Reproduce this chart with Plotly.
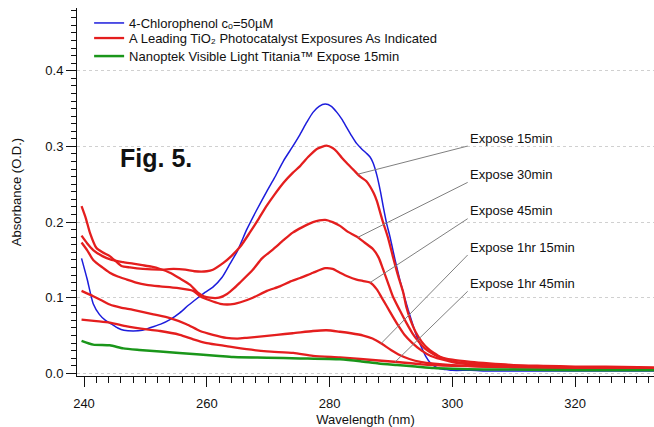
import numpy as np
import plotly.graph_objects as go

# ---------------- data ----------------
blue_x = [239.6, 240.5, 241.5, 242.5, 243.5, 244.5, 245.5, 246.5, 248, 249.5, 251, 252.5, 254, 255.6, 257,
          258.4, 259.7, 261, 262.5, 263.8, 265, 266.5, 268, 269.8, 271, 272.5, 274, 275.2, 276.3, 277.3,
          278.3, 279.3, 280.3, 281.2, 282, 282.8, 283.6, 284.4, 285.2, 286, 286.6, 287.1, 287.7, 288.3,
          288.8, 289.3, 289.8, 290.4, 290.9, 291.5, 292, 292.8, 293.5, 294.2, 295, 295.7, 296.4, 297.2,
          298, 299, 300, 303, 306, 310, 315, 320, 325, 333]
blue_y = [0.152, 0.125, 0.092, 0.078, 0.070, 0.065, 0.060, 0.057, 0.056, 0.057, 0.061, 0.065, 0.071, 0.080,
          0.090, 0.099, 0.107, 0.114, 0.127, 0.145, 0.162, 0.190, 0.214, 0.241, 0.258, 0.281, 0.300, 0.316,
          0.332, 0.345, 0.353, 0.356, 0.353, 0.345, 0.336, 0.325, 0.314, 0.304, 0.297, 0.291, 0.286, 0.278,
          0.262, 0.240, 0.218, 0.198, 0.182, 0.160, 0.142, 0.122, 0.107, 0.084, 0.066, 0.049, 0.034, 0.022,
          0.014, 0.009, 0.006, 0.005, 0.004, 0.004, 0.003, 0.003, 0.003, 0.003, 0.003, 0.003]

red15_x = [239.6, 240.3, 241, 242, 243, 244.2, 245.2, 246.1, 247.5, 249.6, 252.4, 254.6, 256.5, 258, 260,
           261, 262.7, 264, 265.5, 267, 268.5, 269.8, 271, 272.5, 274, 275.2, 276.5, 278, 279.5, 280.5,
           281.2, 282, 282.8, 283.9, 285, 286, 286.6, 287.2, 287.7, 288.2, 288.7, 289.5, 290.3, 291.2,
           292, 292.5, 293.2, 294, 295, 296, 297, 298, 300, 303, 306, 310, 315, 320, 325, 333]
red15_y = [0.221, 0.205, 0.185, 0.166, 0.160, 0.155, 0.148, 0.142, 0.140, 0.138, 0.137, 0.138, 0.137, 0.135,
           0.135, 0.137, 0.146, 0.155, 0.168, 0.186, 0.205, 0.222, 0.236, 0.252, 0.265, 0.274, 0.286, 0.297,
           0.301, 0.298, 0.293, 0.285, 0.278, 0.269, 0.260, 0.254, 0.247, 0.238, 0.228, 0.214, 0.200, 0.180,
           0.155, 0.128, 0.107, 0.088, 0.070, 0.055, 0.042, 0.033, 0.027, 0.022, 0.018, 0.015, 0.013, 0.011,
           0.010, 0.009, 0.009, 0.008]

red30_x = [239.6, 240.5, 241.5, 243, 244.5, 246.4, 248, 249.5, 251, 252.4, 254, 255.5, 257.3, 258.5, 259.5,
           260.5, 262, 263.3, 264.5, 265.4, 267.5, 269, 270.8, 272.5, 274, 275.5, 277.3, 279.3, 280.5,
           281.7, 283, 284.4, 285.7, 287.1, 288, 288.7, 289.5, 290.3, 291.4, 292.5, 293.5, 294.5, 295.5,
           297, 298.5, 300, 303, 306, 310, 315, 320, 325, 333]
red30_y = [0.182, 0.172, 0.163, 0.155, 0.150, 0.147, 0.145, 0.143, 0.141, 0.138, 0.133, 0.126, 0.117, 0.107,
           0.102, 0.100, 0.100, 0.105, 0.113, 0.120, 0.137, 0.152, 0.164, 0.176, 0.186, 0.193, 0.200, 0.203,
           0.200, 0.195, 0.187, 0.181, 0.173, 0.164, 0.153, 0.138, 0.120, 0.102, 0.084, 0.067, 0.053, 0.042,
           0.033, 0.025, 0.020, 0.016, 0.013, 0.011, 0.010, 0.009, 0.008, 0.008, 0.007]

red45_x = [239.6, 240.5, 241.5, 243, 244.2, 245.5, 247, 248.5, 250.2, 252.4, 255.1, 257.8, 258.9, 260, 261,
           262.2, 263.3, 264.5, 265.5, 267.5, 269.8, 271.9, 273.5, 275.2, 277.3, 279.3, 280.5, 281.7, 283,
           284.4, 285.5, 286.6, 287.7, 288.5, 289.3, 290.3, 291.2, 292.2, 293.5, 295, 296.5, 298, 300, 303,
           306, 310, 315, 320, 325, 333]
red45_y = [0.173, 0.163, 0.150, 0.140, 0.133, 0.128, 0.124, 0.120, 0.117, 0.115, 0.113, 0.109, 0.102, 0.098,
           0.095, 0.092, 0.091, 0.092, 0.094, 0.100, 0.109, 0.115, 0.121, 0.126, 0.133, 0.139, 0.138, 0.133,
           0.128, 0.124, 0.122, 0.120, 0.111, 0.100, 0.089, 0.075, 0.063, 0.051, 0.040, 0.030, 0.023, 0.019,
           0.015, 0.012, 0.011, 0.009, 0.008, 0.008, 0.007, 0.007]

red75_x = [239.6, 241.5, 243, 244.2, 246, 248, 251.3, 254, 256.7, 258.9, 261, 263.2, 265, 266.5, 269, 271.4,
           274, 277.3, 279.5, 281.7, 283.5, 285.5, 287, 288.5, 290, 291.5, 293, 295, 297, 300, 305, 310,
           320, 333]
red75_y = [0.109, 0.102, 0.096, 0.091, 0.087, 0.084, 0.078, 0.073, 0.065, 0.056, 0.051, 0.047, 0.046, 0.047,
           0.049, 0.051, 0.053, 0.056, 0.057, 0.055, 0.053, 0.050, 0.046, 0.039, 0.031, 0.024, 0.019, 0.015,
           0.013, 0.011, 0.009, 0.008, 0.007, 0.006]

red105_x = [239.6, 242, 244.2, 247, 250.2, 252.4, 255.6, 257.8, 260, 263.2, 266.5, 269.8, 274.1, 277.3,
            281.7, 285, 288, 291, 295, 300, 305, 310, 320, 333]
red105_y = [0.071, 0.069, 0.067, 0.062, 0.058, 0.056, 0.051, 0.045, 0.040, 0.036, 0.032, 0.029, 0.027, 0.023,
            0.021, 0.019, 0.017, 0.015, 0.012, 0.010, 0.009, 0.008, 0.007, 0.006]

green_x = [239.6, 241.5, 244.2, 246.4, 249, 252.4, 255.5, 258.9, 262, 264.3, 269.8, 275.2, 281.7, 285, 288,
           291, 294, 297, 300, 305, 310, 320, 333]
green_y = [0.043, 0.038, 0.037, 0.033, 0.031, 0.029, 0.027, 0.025, 0.023, 0.0215, 0.0207, 0.0198, 0.0185,
           0.016, 0.013, 0.011, 0.009, 0.007, 0.006, 0.005, 0.005, 0.004, 0.004]

red_labels = ["Expose 15min", "Expose 30min", "Expose 45min", "Expose 1hr 15min", "Expose 1hr 45min"]
label_targets = [284.6, 284.6, 286.6, 288.4, 290.7]  # wavelength where each leader touches its curve

legend_names = ["4-Chlorophenol c\u2092=50\u00b5M",
                "A Leading TiO\u2082 Photocatalyst Exposures As Indicated",
                "Nanoptek Visible Light Titania\u2122 Expose 15min"]

x_ticks = [240, 260, 280, 300, 320]
y_ticks = [0.0, 0.1, 0.2, 0.3, 0.4]

# ---------------- figure ----------------
BLUE = "#1c1cdc"
RED = "#e41e1e"
GREEN = "#1a961a"
FONT = "Liberation Sans, Arial, sans-serif"

fig = go.Figure()

red_series = [(red15_x, red15_y), (red30_x, red30_y), (red45_x, red45_y),
              (red75_x, red75_y), (red105_x, red105_y)]

fig.add_trace(go.Scatter(x=blue_x, y=blue_y, mode="lines", name=legend_names[0], legend="legend",
                         line=dict(color=BLUE, width=1.5, shape="spline", smoothing=0.6)))
for i, (xs, ys) in enumerate(red_series):
    fig.add_trace(go.Scatter(x=xs, y=ys, mode="lines", name=legend_names[1], legend="legend2",
                             legendgroup="red", showlegend=(i == 0),
                             line=dict(color=RED, width=2.3, shape="spline", smoothing=0.6)))
fig.add_trace(go.Scatter(x=green_x, y=green_y, mode="lines", name=legend_names[2], legend="legend3",
                         line=dict(color=GREEN, width=2.5, shape="spline", smoothing=0.6)))

# leader lines + labels
label_y0 = 0.311
label_step = 0.048
for i, (lab, tx) in enumerate(zip(red_labels, label_targets)):
    xs, ys = red_series[i]
    ty = float(np.interp(tx, xs, ys))
    ly = label_y0 - i * label_step
    fig.add_shape(type="line", xref="x", yref="y", x0=302.5, y0=ly - 0.0105, x1=tx, y1=ty,
                  line=dict(color="#808080", width=1))
    fig.add_annotation(x=302.5, y=ly, xref="x", yref="y", text=lab, showarrow=False,
                       xanchor="left", yanchor="middle",
                       font=dict(family=FONT, size=13, color="#111111"))

fig.add_annotation(x=245.5, y=0.285, xref="x", yref="y", text="<b>Fig. 5.</b>", showarrow=False,
                   xanchor="left", yanchor="middle", font=dict(family=FONT, size=25, color="#111111"))

leg_common = dict(x=0.021, xanchor="left", yanchor="top", bgcolor="rgba(0,0,0,0)",
                  font=dict(family=FONT, size=13, color="#111111"), itemwidth=30)

fig.update_layout(
    width=654, height=427,
    margin=dict(l=77, r=0, t=8, b=51),
    paper_bgcolor="white", plot_bgcolor="white",
    font=dict(family=FONT, size=13, color="#111111"),
    showlegend=True,
    legend=dict(y=1.0, **leg_common),
    legend2=dict(y=0.959, **leg_common),
    legend3=dict(y=0.910, **leg_common),
    xaxis=dict(range=[238.86, 332.85], tickvals=x_ticks, ticks="outside", ticklen=10, tickwidth=1,
               tickcolor="#111111", showline=True, linecolor="#111111", linewidth=1, showgrid=False,
               zeroline=False, minor=dict(dtick=2, ticks="outside", ticklen=6, tickcolor="#111111",
                                          showgrid=False),
               ticklabelstandoff=5,
               title=dict(text="Wavelength (nm)", standoff=7, font=dict(size=13)),
               tickfont=dict(size=13)),
    yaxis=dict(range=[-0.0035, 0.483], tickvals=y_ticks, tickformat=".1f", ticks="outside", ticklen=10,
               tickwidth=1, tickcolor="#111111", showline=True, linecolor="#111111", linewidth=1,
               showgrid=True, gridcolor="#d0d0d0", griddash="dot", gridwidth=1, zeroline=False,
               minor=dict(dtick=0.01, ticks="outside", ticklen=5, tickcolor="#111111", showgrid=False),
               title=dict(text="Absorbance (O.D.)", standoff=20, font=dict(size=13)),
               tickfont=dict(size=13)),
)

fig.write_html("out.html")
